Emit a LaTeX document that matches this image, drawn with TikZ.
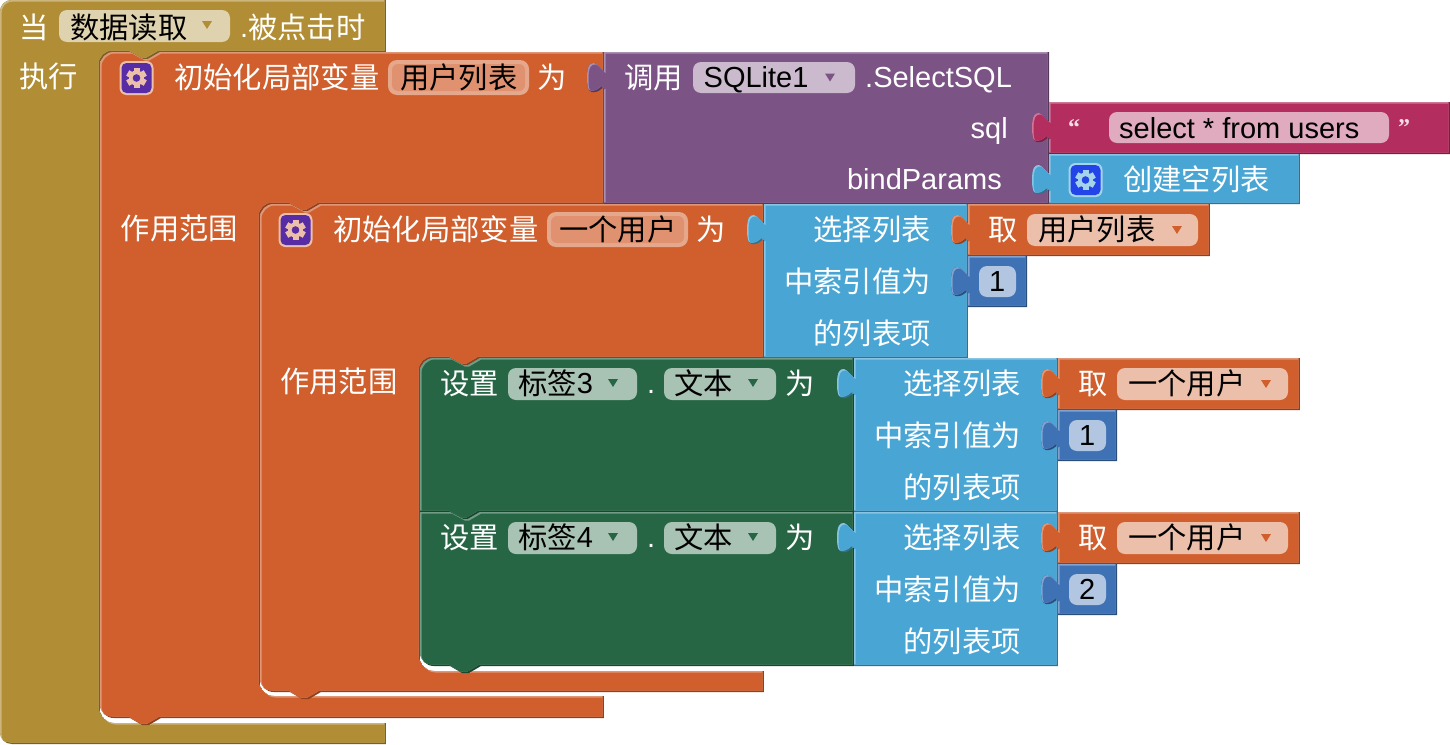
\documentclass[tikz,border=0pt]{standalone}
\usepackage{fontspec}
\setmainfont{Liberation Sans}
\newfontfamily\cjk{Noto Sans CJK SC}
\newfontfamily\quotefont{Liberation Serif}
\definecolor{goldc}{HTML}{B18E35}
\definecolor{orangec}{HTML}{D05F2D}
\definecolor{purplec}{HTML}{7C5385}
\definecolor{pinkc}{HTML}{B32D5E}
\definecolor{bluec}{HTML}{49A6D4}
\definecolor{navyc}{HTML}{3F71B5}
\definecolor{greenc}{HTML}{266644}
\definecolor{goldf}{HTML}{DFD2AE}
\definecolor{orangef}{HTML}{ECBFAB}
\definecolor{varf}{HTML}{E09270}
\definecolor{varb}{HTML}{E5A88C}
\definecolor{purplef}{HTML}{CBBACE}
\definecolor{pinkf}{HTML}{E1ABBF}
\definecolor{navyf}{HTML}{B2C6E1}
\definecolor{greenf}{HTML}{A8C2B4}
\definecolor{iconviolet}{HTML}{582CA4}
\definecolor{iconblue}{HTML}{2244E8}
\tikzset{
  lbl/.style={anchor=base west,inner sep=0pt,text=white,font=\fontsize{29}{29}\selectfont},
  lblr/.style={lbl,anchor=base east},
  fldt/.style={lbl,text=black},
  qmark/.style={lbl,font=\quotefont\bfseries\fontsize{24}{24}\selectfont,text=pinkf!40!white},
}
\newcommand\zh[1]{{\cjk\fontsize{29.3}{29.3}\selectfont\raisebox{-1pt}{#1}}}
% emboss: dark rim on bottom/right faces, light rim on top/left faces
\newcommand\embossed[2]{%
  \begin{scope}
    \clip #2;
    \fill[#1!68!black] #2;
    \begin{scope}[shift={(-1.5,-1.5)}]
      \fill[#1!65!white] #2;
      \clip #2;
      \begin{scope}[shift={(3,3)}]
        \fill[#1] #2;
      \end{scope}
    \end{scope}
  \end{scope}}
% output block with puzzle tab on its left: x1,y1,x2,y2,tab top,colour
\newcommand\outblock[6]{\embossed{#6}{(#1,#2) -- (#3,#2) -- (#3,#4) -- (#1,#4) -- (#1,{#5+24})
  .. controls ({#1-3},{#5+26}) and ({#1-6},{#5+29}) .. ({#1-9},{#5+29})
  .. controls ({#1-13},{#5+30}) and ({#1-17},{#5+29}) .. ({#1-17},{#5+15})
  .. controls ({#1-17},{#5+2}) and ({#1-14},{#5}) .. ({#1-10},{#5})
  .. controls ({#1-7},{#5+1}) and ({#1-3},{#5+6}) .. (#1,{#5+9}) -- cycle}}
% variable block: x,y,right,header bottom,inner left,inner bottom,bottom
\newcommand\varblock[7]{\embossed{orangec}{(#1,{#2+14}) .. controls (#1,{#2+6}) and ({#1+6},#2) .. ({#1+14},#2)
  -- ({#1+30},#2) -- ({#1+43},{#2+7}) -- ({#1+48},{#2+7}) -- ({#1+60},#2) -- (#3,#2) -- (#3,#4)
  -- ({#5+60},#4) -- ({#5+48},{#4+7}) -- ({#5+43},{#4+7}) -- ({#5+30},#4) -- ({#5+14},#4)
  .. controls ({#5+6},#4) and (#5,{#4+6}) .. (#5,{#4+14}) -- (#5,{#6-14})
  .. controls (#5,{#6-6}) and ({#5+6},#6) .. ({#5+14},#6) -- (#3,#6) -- (#3,#7)
  -- ({#1+61},#7) -- ({#1+49},{#7+7}) -- ({#1+42},{#7+7}) -- ({#1+30},#7) -- ({#1+14},#7)
  .. controls ({#1+6},#7) and (#1,{#7-6}) .. (#1,{#7-14}) -- cycle}}
\newcommand\fieldbox[5]{\fill[#5,rounded corners=8] (#1,#2) rectangle (#3,#4);}
\newcommand\varfield[4]{\fill[varb,rounded corners=9] (#1,#2) rectangle (#3,#4);
  \fill[varf,rounded corners=6] ({#1+4},{#2+4}) rectangle ({#3-4},{#4-4});}
\newcommand\drop[3]{\fill[#3] ({#1-5},{#2-4}) -- ({#1+5},{#2-4}) -- (#1,{#2+4}) -- cycle;}
\newcommand\gearicon[4]{%
  \fill[#4,rounded corners=7] ({#1-17},{#2-17}) rectangle ({#1+17},{#2+17});
  \fill[#3,rounded corners=5] ({#1-15},{#2-15}) rectangle ({#1+15},{#2+15});
  \foreach \a in {0,60,120,180,240,300}{
    \fill[#4,rotate around={\a:(#1,#2)}] ({#1-3},{#2-10}) rectangle ({#1+3},{#2+10});}
  \fill[#4] (#1,#2) circle (7.6);
  \fill[#3] (#1,#2) circle (3.8);}
\begin{document}
\begin{tikzpicture}[x=1pt,y=-1pt]
\useasboundingbox (0,0) rectangle (1450,744);
% event block
\embossed{goldc}{(0,12) .. controls (0,5) and (5,0) .. (12,0) -- (386,0) -- (386,52) -- (160,52) -- (148,59) -- (143,59) -- (130,52) -- (114,52)
  .. controls (106,52) and (100,58) .. (100,66) -- (100,708) .. controls (100,716) and (106,723) .. (114,723) -- (386,723) -- (386,744) -- (12,744)
  .. controls (5,744) and (0,739) .. (0,732) -- cycle}
% first local variable
\varblock{100}{52}{604}{204}{260}{696}{718}
\outblock{604}{52}{1049}{204}{63}{purplec}
\outblock{1049}{102}{1450}{154}{113}{pinkc}
\outblock{1049}{154}{1300}{204}{165}{bluec}
% second local variable
\varblock{260}{204}{764}{358}{420}{671}{692}
\outblock{764}{204}{968}{358}{215}{bluec}
\outblock{968}{204}{1210}{256}{215}{orangec}
\outblock{968}{256}{1027}{307}{267}{navyc}
% setters
\embossed{greenc}{(420,372) .. controls (420,364) and (426,358) .. (434,358) -- (450,358) -- (463,365) -- (468,365) -- (480,358) -- (854,358) -- (854,512)
  -- (480,512) -- (468,519) -- (463,519) -- (450,512) -- (420,512) -- cycle}
\embossed{greenc}{(420,512) -- (450,512) -- (463,519) -- (468,519) -- (480,512) -- (854,512) -- (854,666)
  -- (481,666) -- (469,673) -- (462,673) -- (450,666) -- (434,666) .. controls (426,666) and (420,660) .. (420,652) -- cycle}
\outblock{854}{358}{1058}{512}{369}{bluec}
\outblock{1058}{358}{1300}{410}{369}{orangec}
\outblock{1058}{410}{1117}{461}{421}{navyc}
\outblock{854}{512}{1058}{666}{523}{bluec}
\outblock{1058}{512}{1300}{564}{523}{orangec}
\outblock{1058}{564}{1117}{615}{575}{navyc}
% fields
\fieldbox{59}{10}{230}{42}{goldf}
\drop{207}{25}{goldc}
\fieldbox{693}{62}{855}{93}{purplef}
\drop{830}{77.5}{purplec}
\fieldbox{1109}{112}{1389}{143}{pinkf}
\varfield{388}{60}{529}{95}
\varfield{547}{212}{688}{247}
\fieldbox{1027}{214}{1198}{246}{orangef}
\drop{1177}{230}{orangec}
\fieldbox{979}{266}{1016}{297}{navyf}
\fieldbox{508}{368}{637}{400}{greenf}
\drop{613}{383}{greenc}
\fieldbox{664}{368}{776}{400}{greenf}
\drop{753}{383}{greenc}
\fieldbox{1117}{368}{1288}{400}{orangef}
\drop{1266}{384}{orangec}
\fieldbox{1069}{420}{1106}{451}{navyf}
\fieldbox{508}{522}{637}{554}{greenf}
\drop{613}{537}{greenc}
\fieldbox{664}{522}{776}{554}{greenf}
\drop{753}{537}{greenc}
\fieldbox{1117}{522}{1288}{554}{orangef}
\drop{1266}{538}{orangec}
\fieldbox{1069}{574}{1106}{605}{navyf}
% icons
\gearicon{136.5}{78}{iconviolet}{orangef}
\gearicon{295.5}{230}{iconviolet}{orangef}
\gearicon{1085.5}{180}{iconblue}{bluec!50!white}
% texts
\node[lbl] (t1) at (19,37) {\zh{当}};
\node[fldt] (t2) at (70,37) {\zh{数据读取}};
\node[lbl] (t3) at (240,37) {.\zh{被点击时}};
\node[lbl] (t4) at (19,86) {\zh{执行}};
\node[lbl] (t5) at (174,87) {\zh{初始化局部变量}};
\node[fldt] (t6) at (400,87) {\zh{用户列表}};
\node[lbl] (t7) at (537,87) {\zh{为}};
\node[lbl] (t8) at (624,87) {\zh{调用}};
\node[fldt] (t9) at (703.5,87) {SQLite1};
\node[lbl] (t10) at (865,87) {.SelectSQL};
\node[lblr] (t11) at (1008,138) {sql};
\node[lblr] (t12) at (1002,189) {bindParams};
\node[fldt] (t13) at (1119,138) {select * from users};
\node[qmark] (t14) at (1068,135) {“};
\node[qmark] (t15) at (1398,135) {”};
\node[lbl] (t16) at (1123,189) {\zh{创建空列表}};
\node[lbl] (t17) at (120.5,238) {\zh{作用范围}};
\node[lbl] (t18) at (333,239) {\zh{初始化局部变量}};
\node[fldt] (t19) at (559,239) {\zh{一个用户}};
\node[lbl] (t20) at (696,239) {\zh{为}};
\node[lblr] (t21) at (931,239) {\zh{选择列表}};
\node[lblr] (t22) at (931,291) {\zh{中索引值为}};
\node[lblr] (t23) at (931,343) {\zh{的列表项}};
\node[lbl] (t24) at (988,239) {\zh{取}};
\node[fldt] (t25) at (1038,239) {\zh{用户列表}};
\node[fldt] (t26) at (989,291) {1};
\node[lbl] (t27) at (280,391) {\zh{作用范围}};
\node[lbl] (t28) at (440,393) {\zh{设置}};
\node[fldt] (t29) at (518,393) {\zh{标签}3};
\node[lbl] (t30) at (647,393) {.};
\node[fldt] (t31) at (674,393) {\zh{文本}};
\node[lbl] (t32) at (785,393) {\zh{为}};
\node[lblr] (t33) at (1021,393) {\zh{选择列表}};
\node[lblr] (t34) at (1021,445) {\zh{中索引值为}};
\node[lblr] (t35) at (1021,497) {\zh{的列表项}};
\node[lbl] (t36) at (1078,393) {\zh{取}};
\node[fldt] (t37) at (1128,393) {\zh{一个用户}};
\node[fldt] (t38) at (1079,445) {1};
\node[lbl] (t39) at (440,547) {\zh{设置}};
\node[fldt] (t40) at (518,547) {\zh{标签}4};
\node[lbl] (t41) at (647,547) {.};
\node[fldt] (t42) at (674,547) {\zh{文本}};
\node[lbl] (t43) at (785,547) {\zh{为}};
\node[lblr] (t44) at (1021,547) {\zh{选择列表}};
\node[lblr] (t45) at (1021,599) {\zh{中索引值为}};
\node[lblr] (t46) at (1021,651) {\zh{的列表项}};
\node[lbl] (t47) at (1078,547) {\zh{取}};
\node[fldt] (t48) at (1128,547) {\zh{一个用户}};
\node[fldt] (t49) at (1079,599) {2};
\end{tikzpicture}
\end{document}
